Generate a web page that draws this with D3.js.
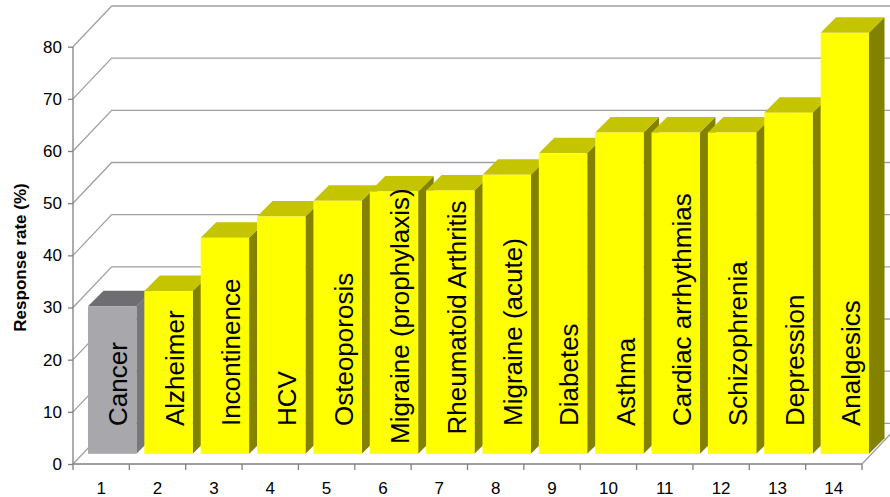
<!DOCTYPE html>
<html>
<head>
<meta charset="utf-8">
<script src="https://cdnjs.cloudflare.com/ajax/libs/d3/7.8.5/d3.min.js"></script>
<style>
  html, body { margin: 0; padding: 0; background: #ffffff; }
  svg { display: block; font-family: "Liberation Sans", Arial, sans-serif; }
</style>
</head>
<body>
<svg id="chart" width="890" height="497"></svg>
<script>
// ---- data ----
const categories = ["1","2","3","4","5","6","7","8","9","10","11","12","13","14"];
const barLabels = ["Cancer","Alzheimer","Incontinence","HCV","Osteoporosis","Migraine (prophylaxis)",
  "Rheumatoid Arthritis","Migraine (acute)","Diabetes","Asthma","Cardiac arrhythmias",
  "Schizophrenia","Depression","Analgesics"];
const responseRates = [28.3, 31.2, 41.4, 45.5, 48.5, 50.3, 50.5, 53.5, 57.6, 61.6, 61.6, 61.6, 65.4, 80.7];
const highlighted = ["Cancer"];
const yTicks = [0, 10, 20, 30, 40, 50, 60, 70, 80];
const yTitle = "Response rate (%)";

// ---- layout ----
const svg = d3.select("#chart");
const x0 = 73, x1 = 862, yBase = 464, yTop = 46.7;
const wallDX = 38.7, wallDY = 40.7;         // depth of the back wall
const barF0 = 0.25;                          // bar front plane (fraction of depth)
const barDepth = 15.5;                       // bar depth in px (oblique)
const fDX = wallDX * barF0, fDY = wallDY * barF0;

const y = d3.scaleLinear().domain([0, 80]).range([yBase, yTop]);
const xb = d3.scaleBand().domain(categories).range([x0, x1]).padding(0);
const xt = d3.scaleLinear().domain([0, categories.length]).range([x0, x1]);

const gridColor = "#a0a0a0";
const axisColor = "#808080";

// back wall gridlines (with diagonal on left side wall)
const gGrid = svg.append("g");
yTicks.forEach(v => {
  const yy = y(v);
  gGrid.append("path")
    .attr("d", `M${x0},${yy} L${x0 + wallDX},${yy - wallDY} L890,${yy - wallDY}`)
    .attr("fill", "none").attr("stroke", gridColor).attr("stroke-width", 1.3);
});
// floor right edge
gGrid.append("path")
  .attr("d", `M${x1},${yBase} L${x1 + wallDX},${yBase - wallDY}`)
  .attr("fill", "none").attr("stroke", gridColor).attr("stroke-width", 1.3);

// ---- bars ----
const colors = {
  yellow: { front: "#ffff00", top: "#c4c400", side: "#828200" },
  gray:   { front: "#a8a8ac", top: "#6e6e72", side: "#77777b" }
};
const barW = 48.4;
const barOffset = 5.3;
const gBars = svg.append("g");

categories.forEach((c, i) => {
  const col = highlighted.includes(barLabels[i]) ? colors.gray : colors.yellow;
  const L = xb(c) + fDX + barOffset, R = L + barW;
  const B = yBase - fDY, T = y(responseRates[i]) - fDY;
  const d = barDepth;
  const g = gBars.append("g");
  g.append("path")
    .attr("d", `M${R},${B} L${R + d},${B - d} L${R + d},${T - d} L${R},${T} Z`)
    .attr("fill", col.side);
  g.append("path")
    .attr("d", `M${L},${T} L${L + d},${T - d} L${R + d},${T - d} L${R},${T} Z`)
    .attr("fill", col.top);
  g.append("rect")
    .attr("x", L).attr("y", T).attr("width", barW).attr("height", B - T)
    .attr("fill", col.front);
});

// bar labels
categories.forEach((c, i) => {
  const L = xb(c) + fDX + barOffset, R = L + barW;
  const T = y(responseRates[i]) - fDY;
  const t = svg.append("text")
    .attr("font-size", 26)
    .attr("fill", "#000")
    .text(barLabels[i]);
  const len = t.node().getComputedTextLength();
  const startY = Math.max(426, Math.min(444, T + len + 10));
  const bx = R - 9;
  t.attr("transform", `translate(${bx},${startY}) rotate(-90)`)
   .attr("text-anchor", "start");
});

// ---- axes ----
const yAxis = d3.axisLeft(y).tickValues(yTicks).tickSize(5).tickPadding(6);
const gy = svg.append("g").attr("transform", `translate(${x0},0)`).call(yAxis);
gy.select(".domain").attr("stroke", axisColor).attr("stroke-width", 1.3).attr("d", `M0,${yBase}V${yTop}`);
gy.selectAll(".tick line").attr("stroke", axisColor).attr("stroke-width", 1.3);
gy.selectAll(".tick text").attr("font-size", 17).attr("fill", "#000")
  .attr("font-family", "'Liberation Sans', Arial, sans-serif");

// bottom axis line + ticks at band boundaries
const gx = svg.append("g");
gx.append("line").attr("x1", x0).attr("x2", x1).attr("y1", yBase).attr("y2", yBase)
  .attr("stroke", axisColor).attr("stroke-width", 1.3);
d3.range(categories.length + 1).forEach(k => {
  gx.append("line").attr("x1", xt(k)).attr("x2", xt(k)).attr("y1", yBase).attr("y2", yBase + 6)
    .attr("stroke", axisColor).attr("stroke-width", 1.3);
});
const xAxis = d3.axisBottom(xb).tickSize(0).tickPadding(0);
const gxl = svg.append("g").attr("transform", `translate(0,${yBase})`).call(xAxis);
gxl.select(".domain").remove();
gxl.selectAll(".tick text").attr("font-size", 17).attr("fill", "#000")
  .attr("dy", null).attr("y", 30)
  .attr("font-family", "'Liberation Sans', Arial, sans-serif");

// y title
svg.append("text")
  .attr("transform", `translate(25.5,257.5) rotate(-90)`)
  .attr("text-anchor", "middle")
  .attr("font-size", 17).attr("font-weight", "bold").attr("fill", "#000")
  .text(yTitle);
</script>
</body>
</html>
